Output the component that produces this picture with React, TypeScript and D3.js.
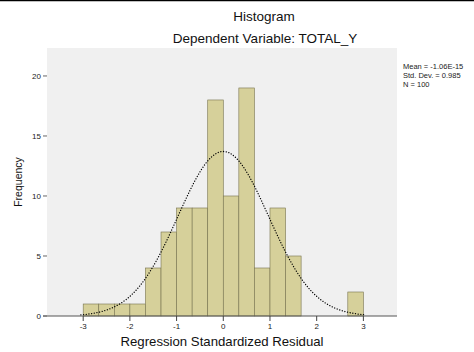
import React from 'react';
import * as d3 from 'd3';

// histogram bins: start at -3, width 1/3
const binStart = -3;
const binWidth = 1 / 3;
const counts = [1, 1, 1, 1, 4, 7, 9, 9, 18, 10, 19, 4, 9, 5, 0, 0, 0, 2];

const xTicks = [-3, -2, -1, 0, 1, 2, 3];
const yTicks = [0, 5, 10, 15, 20];

const titleText = 'Histogram';
const subtitleText = 'Dependent Variable: TOTAL_Y';
const xTitle = 'Regression Standardized Residual';
const yTitle = 'Frequency';
const legendLines = ['Mean = -1.06E-15', 'Std. Dev. = 0.985', 'N = 100'];

const meanVal = 0;
const sdVal = 0.97;
const nVal = 100;

const W = 474;
const H = 352;
const plotLeft = 47;
const plotRight = 397;
const plotTop = 48;
const plotBottom = 316;

const font = '"Liberation Sans", Arial, sans-serif';

const App = () => {
  const x = d3.scaleLinear().domain([-3.775, 3.72]).range([plotLeft, plotRight]);
  const y = d3.scaleLinear().domain([0, 22.33]).range([plotBottom, plotTop]);

  const bins = counts.map((c, i) => ({
    x0: binStart + i * binWidth,
    x1: binStart + (i + 1) * binWidth,
    count: c,
  }));

  const pdf = (v) =>
    (1 / (sdVal * Math.sqrt(2 * Math.PI))) * Math.exp(-0.5 * ((v - meanVal) / sdVal) ** 2);
  const curvePts = d3.range(-3.05, 3.06, 0.02).map(v => [v, nVal * binWidth * pdf(v)]);
  const line = d3.line().x(d => x(d[0])).y(d => y(d[1])).curve(d3.curveBasis);

  return (
    <svg width={W} height={H} style={{ position: 'absolute', left: 0, top: 0, background: '#fff' }}
      fontFamily={font}>
      <line x1={0} x2={W} y1={0.5} y2={0.5} stroke="#000" strokeWidth={1.5} />

      <text x={264} y={21} textAnchor="middle" fontSize={13.5} fill="#111">{titleText}</text>
      <text x={265} y={43} textAnchor="middle" fontSize={13.5} fill="#111">{subtitleText}</text>

      <rect x={plotLeft} y={plotTop} width={plotRight - plotLeft} height={plotBottom - plotTop} fill="#f0f0f0" />

      {bins.filter(b => b.count > 0).map((b, i) => (
        <rect key={i}
          x={x(b.x0)} y={y(b.count)}
          width={x(b.x1) - x(b.x0)} height={y(0) - y(b.count)}
          fill="#d6d09a" stroke="#77734f" strokeWidth={0.6} />
      ))}

      <path d={line(curvePts)} fill="none" stroke="#000" strokeWidth={1.3}
        strokeDasharray="0.1 2.6" strokeLinecap="round" />

      <line x1={43} x2={plotRight} y1={plotBottom} y2={plotBottom} stroke="#555" strokeWidth={1.2} />

      {yTicks.map(t => (
        <g key={t}>
          <line x1={43} x2={plotLeft} y1={y(t)} y2={y(t)} stroke="#666" strokeWidth={1} />
          <text x={41} y={y(t) + 3} textAnchor="end" fontSize={8} fill="#222">{t}</text>
        </g>
      ))}

      {xTicks.map(t => (
        <g key={t}>
          <line x1={x(t)} x2={x(t)} y1={plotBottom} y2={plotBottom + 5} stroke="#444" strokeWidth={1} />
          <text x={x(t)} y={plotBottom + 13} textAnchor="middle" fontSize={8} fill="#222">{t}</text>
        </g>
      ))}

      <text x={222} y={346} textAnchor="middle" fontSize={13.2} fill="#111">{xTitle}</text>
      <text transform={`translate(22,182) rotate(-90)`} textAnchor="middle" fontSize={10.5} fill="#111">{yTitle}</text>

      {legendLines.map((s, i) => (
        <text key={i} x={403} y={69 + i * 9} fontSize={7.5} fill="#222">{s}</text>
      ))}
    </svg>
  );
};

export default App;
